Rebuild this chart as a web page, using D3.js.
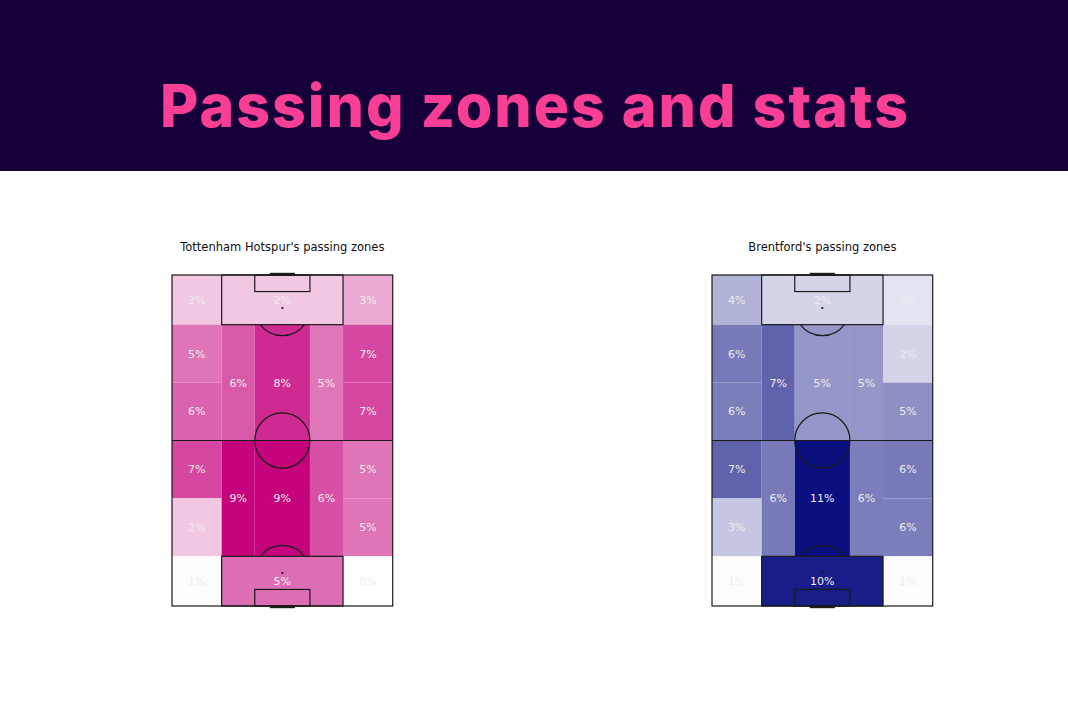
<!DOCTYPE html>
<html>
<head>
<meta charset="utf-8">
<script src="https://cdn.jsdelivr.net/npm/d3@7"></script>
<style>
  html, body { margin: 0; padding: 0; background: #fff; }
  svg { display: block; }
</style>
</head>
<body>
<div id="chart"></div>
<script>
// pitch is StatsBomb-style 80 x 120, zones are the positional ("juego de posicion") bins
let W = 1068,
    H = 712

const title = 'Passing zones and stats'
const teams = ["Tottenham Hotspur's passing zones", "Brentford's passing zones"]

// share of passes (%) per zone
// wide channels run top -> bottom in 6 rows, inner channels in 2 rows
const spursLeftWing = [2.4, 5.2, 5.8, 6.7, 2.4, 0.6]
const spursLeftHalf = [6.1, 9.0]
const spursCentre = [7.7, 9.0]
const spursRightHalf = [5.1, 6.4]
const spursRightWing = [3.4, 6.7, 6.7, 5.2, 5.2, 0]
const spursBoxes = [2.4, 5.4]

const brentLeftWing = [3.9, 6.4, 6.2, 7.4, 3.0, 0.6]
const brentLeftHalf = [7.4, 6.4]
const brentCentre = [5.1, 11.1]
const brentRightHalf = [5.1, 6.2]
const brentRightWing = [1.7, 2.4, 5.4, 6.4, 6.2, 0.6]
const brentBoxes = [2.4, 10.49]

const teamColours = ['#c5037d', '#0a0f80']
const colourFloor = 0.5 // anything at or below this stays white

// zone edges in pitch units
const wingRows = [0, 18, 39, 60, 81, 102, 120]
const innerRows = [18, 60, 102]
const boxRows = [[0, 18], [102, 120]]

let buildZones = (lw, lh, c, rh, rw, box) => {
    let zones = []
    lw.forEach((v, i) => zones.push({ x0: 0, x1: 18, y0: wingRows[i], y1: wingRows[i + 1], v }))
    rw.forEach((v, i) => zones.push({ x0: 62, x1: 80, y0: wingRows[i], y1: wingRows[i + 1], v }))
    lh.forEach((v, i) => zones.push({ x0: 18, x1: 30, y0: innerRows[i], y1: innerRows[i + 1], v }))
    c.forEach((v, i) => zones.push({ x0: 30, x1: 50, y0: innerRows[i], y1: innerRows[i + 1], v }))
    rh.forEach((v, i) => zones.push({ x0: 50, x1: 62, y0: innerRows[i], y1: innerRows[i + 1], v }))
    box.forEach((v, i) => zones.push({ x0: 18, x1: 62, y0: boxRows[i][0], y1: boxRows[i][1], v }))
    return zones
}

const teamZones = [
    buildZones(spursLeftWing, spursLeftHalf, spursCentre, spursRightHalf, spursRightWing, spursBoxes),
    buildZones(brentLeftWing, brentLeftHalf, brentCentre, brentRightHalf, brentRightWing, brentBoxes)
]

let svg = d3.select('#chart')
    .append('svg')
    .attr('width', W)
    .attr('height', H)

// header band
svg.append('rect')
    .attr('x', 0)
    .attr('y', 0)
    .attr('width', W)
    .attr('height', 171)
    .attr('fill', '#15003a')

svg.append('text')
    .text(title)
    .attr('x', W / 2)
    .attr('y', 127)
    .attr('text-anchor', 'middle')
    .attr('font-family', 'Inter, Roboto, sans-serif')
    .attr('font-weight', 800)
    .attr('font-size', 59)
    .attr('textLength', 748)
    .attr('lengthAdjust', 'spacing')
    .attr('fill', '#f93e96')

const pitchLefts = [172, 712]
const pitchW = 220.7,
    pitchTop = 275,
    pitchH = 331

let drawPitch = (g, xs, ys) => {
    let line = '#1a1a1a'
    let lw = 1.2
    let rect = (x0, y0, x1, y1) => g.append('rect')
        .attr('x', xs(x0))
        .attr('y', ys(y0))
        .attr('width', xs(x1) - xs(x0))
        .attr('height', ys(y1) - ys(y0))
        .attr('fill', 'none')
        .attr('stroke', line)
        .attr('stroke-width', lw)
    let r = xs(10) - xs(0)

    // outline, halfway line, centre circle
    rect(0, 0, 80, 120)
    g.append('line')
        .attr('x1', xs(0)).attr('x2', xs(80))
        .attr('y1', ys(60)).attr('y2', ys(60))
        .attr('stroke', line)
        .attr('stroke-width', lw)
    g.append('circle')
        .attr('cx', xs(40)).attr('cy', ys(60))
        .attr('r', r)
        .attr('fill', 'none')
        .attr('stroke', line)
        .attr('stroke-width', lw)
    g.append('circle')
        .attr('cx', xs(40)).attr('cy', ys(60))
        .attr('r', 0.8)
        .attr('fill', line)

    // both ends
    ;[[0, 1], [120, -1]].forEach(([goal, dir]) => {
        rect(18, Math.min(goal, goal + dir * 18), 62, Math.max(goal, goal + dir * 18))
        rect(30, Math.min(goal, goal + dir * 6), 50, Math.max(goal, goal + dir * 6))
        let spotY = goal + dir * 12
        g.append('circle')
            .attr('cx', xs(40)).attr('cy', ys(spotY))
            .attr('r', 1.1)
            .attr('fill', line)
        // penalty arc outside the box
        let boxEdge = goal + dir * 18
        let dy = Math.abs(ys(boxEdge) - ys(spotY))
        let half = Math.acos(dy / r)
        let mid = dir > 0 ? Math.PI : 0
        let arc = d3.arc()
            .innerRadius(r)
            .outerRadius(r)
            .startAngle(mid - half)
            .endAngle(mid + half)
        g.append('path')
            .attr('d', arc())
            .attr('transform', `translate(${xs(40)},${ys(spotY)})`)
            .attr('fill', 'none')
            .attr('stroke', line)
            .attr('stroke-width', lw)
        // goal
        g.append('line')
            .attr('x1', xs(36)).attr('x2', xs(44))
            .attr('y1', ys(goal) - dir * 0.7).attr('y2', ys(goal) - dir * 0.7)
            .attr('stroke', line)
            .attr('stroke-width', 3)
            .attr('stroke-linecap', 'square')
    })
}

teams.forEach((name, t) => {
    let zones = teamZones[t]
    let xs = d3.scaleLinear()
        .domain([0, 80])
        .range([pitchLefts[t], pitchLefts[t] + pitchW])
    let ys = d3.scaleLinear()
        .domain([0, 120])
        .range([pitchTop, pitchTop + pitchH])
    let colour = d3.scaleLinear()
        .domain([colourFloor, d3.max(zones, d => d.v)])
        .range(['#ffffff', teamColours[t]])
        .clamp(true)

    let g = svg.append('g')

    g.append('text')
        .text(name)
        .attr('x', xs(40))
        .attr('y', 251)
        .attr('text-anchor', 'middle')
        .attr('font-family', 'DejaVu Sans, sans-serif')
        .attr('font-size', 11.5)
        .attr('fill', '#111')

    g.selectAll('rect.zone')
        .data(zones)
        .enter()
        .append('rect')
        .attr('class', 'zone')
        .attr('x', d => xs(d.x0))
        .attr('y', d => ys(d.y0))
        .attr('width', d => xs(d.x1) - xs(d.x0))
        .attr('height', d => ys(d.y1) - ys(d.y0))
        .attr('fill', d => colour(d.v))

    drawPitch(g, xs, ys)

    g.selectAll('text.pct')
        .data(zones)
        .enter()
        .append('text')
        .attr('class', 'pct')
        .text(d => `${Math.round(d.v)}%`)
        .attr('x', d => xs((d.x0 + d.x1) / 2))
        .attr('y', d => ys((d.y0 + d.y1) / 2))
        .attr('dy', '0.36em')
        .attr('text-anchor', 'middle')
        .attr('font-family', 'DejaVu Sans, sans-serif')
        .attr('font-size', 11)
        .attr('fill', '#ededed')
})
</script>
</body>
</html>
